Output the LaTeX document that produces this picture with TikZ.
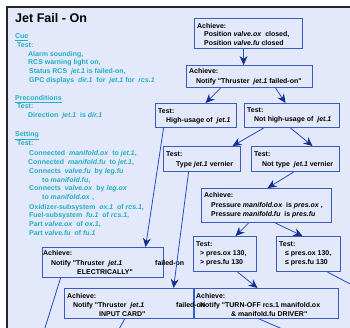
\documentclass[tikz,border=0pt]{standalone}
\usepackage{fontspec}
\newfontfamily\dgfont{Liberation Sans}
\usetikzlibrary{arrows.meta}
\definecolor{bgfill}{RGB}{228,232,251}
\definecolor{cuetext}{RGB}{34,176,196}
\definecolor{boxline}{RGB}{56,92,194}
\definecolor{linkline}{RGB}{32,78,196}
\definecolor{tipfill}{RGB}{22,46,140}
\newcommand\vr[1]{\textit{#1}}
\begin{document}
\begin{tikzpicture}[x=1bp,y=-1bp,
  box/.style={draw=boxline, line width=1.1bp, inner sep=0, anchor=north west},
  lbl/.style={inner sep=0, anchor=base west, text=black,
    font=\dgfont\bfseries\fontsize{7}{8}\selectfont},
  cue/.style={lbl, text=cuetext},
  title/.style={inner sep=0, anchor=base west, text=black,
    font=\dgfont\bfseries\fontsize{12.6}{14}\selectfont},
  link/.style={draw=linkline, line width=0.8bp,
    -{Stealth[length=9bp,width=8bp,inset=3bp,color=tipfill,fill=tipfill]}},
  tail/.style={draw=linkline, line width=0.8bp}]
\clip (0,0) rectangle (350,328);
\fill[white] (0,0) rectangle (350,328);
\fill[bgfill] (6,6) rectangle (350,328);
\draw[black!85, line width=1.6bp] (6.8,330) -- (6.8,6.8) -- (352,6.8);

% title and left-hand description
\node[title] (title) at (15,22.5) {Jet Fail - On};
\node[cue] (c1) at (15,38.5) {\underline{Cue}};
\node[cue] (c2) at (17,47) {Test:};
\node[cue] (c3) at (28,56) {Alarm sounding,};
\node[cue] (c4) at (28,64.5) {RCS warning light on,};
\node[cue] (c5) at (29,73.5) {Status RCS \ \vr{jet.1} is failed-on,};
\node[cue] (c6) at (29,82.5) {GPC displays \ \vr{dir.1} \ for \ \vr{jet.1} for \ \vr{rcs.1}};
\node[cue] (c7) at (15,100.5) {\underline{Preconditions}};
\node[cue] (c8) at (17,108.5) {Test:};
\node[cue] (c9) at (28,117.5) {Direction \ \vr{jet.1} \ is \vr{dir.1}};
\node[cue] (c10) at (15,136.5) {\underline{Setting}};
\node[cue] (c11) at (17,145.5) {Test:};
\node[cue] (c12) at (29,155.5) {Connected \ \vr{manifold.ox} \ to \vr{jet.1},};
\node[cue] (c13) at (28,164.5) {Connected \ \vr{manifold.fu} \ to \vr{jet.1},};
\node[cue] (c14) at (29,173.5) {Connects \ \vr{valve.fu} \ by \vr{leg.fu}};
\node[cue] (c15) at (42,182) {to \vr{manifold.fu},};
\node[cue] (c16) at (29,190.5) {Connects \ \vr{valve.ox} \ by \vr{leg.ox}};
\node[cue] (c17) at (42,199.5) {to \vr{manifold.ox} ,};
\node[cue] (c18) at (29,209) {Oxidizer-subsystem \ \vr{ox.1} \ of \vr{rcs.1},};
\node[cue] (c19) at (29,217.5) {Fuel-subsystem \ \vr{fu.1} \ of \vr{rcs.1},};
\node[cue] (c20) at (29,226.5) {Part \vr{valve.ox} \ of \vr{ox.1},};
\node[cue] (c21) at (29,235) {Part \vr{valve.fu} \ of \vr{fu.1}};

% goal and test boxes
\node[box, minimum width=108bp, minimum height=30bp] (b1) at (194,18) {};
\node[box, minimum width=126bp, minimum height=22bp] (b2) at (186,65) {};
\node[box, minimum width=81bp, minimum height=24bp] (b3) at (155,103) {};
\node[box, minimum width=95bp, minimum height=24bp] (b4) at (244,103) {};
\node[box, minimum width=77bp, minimum height=25bp] (b5) at (163,146) {};
\node[box, minimum width=88bp, minimum height=25bp] (b6) at (251,146) {};
\node[box, minimum width=130bp, minimum height=34bp] (b7) at (201,188) {};
\node[box, minimum width=63bp, minimum height=35bp] (b8) at (193,236) {};
\node[box, minimum width=64bp, minimum height=35bp] (b9) at (276,236) {};
\node[box, minimum width=121bp, minimum height=30bp] (b11) at (42,247) {};
\node[box, minimum width=129bp, minimum height=30bp] (b12) at (64,288) {};
\node[box, minimum width=144bp, minimum height=30bp] (b10) at (194,288) {};

% box texts
\node[lbl] (a1) at (197,28) {Achieve:};
\node[lbl] (a2) at (204,36.5) {Position \vr{valve.ox} \ closed,};
\node[lbl] (a3) at (204,45) {Position \vr{valve.fu} closed};
\node[lbl] (d1) at (189,73) {Achieve:};
\node[lbl] (d2) at (196,83) {Notify "Thruster \ \vr{jet.1} failed-on"};
\node[lbl] (e1) at (158,113) {Test:};
\node[lbl] (e2) at (166,122) {High-usage of \ \vr{jet.1}};
\node[lbl] (f1) at (247,112) {Test:};
\node[lbl] (f2) at (254,121) {Not high-usage of \ \vr{jet.1}};
\node[lbl] (g1) at (166,156) {Test:};
\node[lbl] (g2) at (176,166) {Type \vr{jet.1} vernier};
\node[lbl] (h1) at (254,156) {Test:};
\node[lbl] (h2) at (262,166) {Not type \ \vr{jet.1} vernier};
\node[lbl] (k1) at (204,197) {Achieve:};
\node[lbl] (k2) at (211,207) {Pressure \vr{manifold.ox} \ is \vr{pres.ox} ,};
\node[lbl] (k3) at (211,216) {Pressure \vr{manifold.fu} \ is \vr{pres.fu}};
\node[lbl] (m1) at (196,246) {Test:};
\node[lbl] (m2) at (200,255) {> pres.ox 130,};
\node[lbl] (m3) at (200,264) {> pres.fu 130};
\node[lbl] (n1) at (279,246) {Test:};
\node[lbl] (n2) at (285,255) {≤ pres.ox 130,};
\node[lbl] (n3) at (285,264) {≤ pres.fu 130};
\node[lbl] (p1) at (43,255) {Achieve:};
\node[lbl] (p2) at (51,265) {Notify "Thruster \ \vr{jet.1}};
\node[lbl] (p3) at (155,265) {failed-on};
\node[lbl] (p4) at (77,274) {ELECTRICALLY"};
\node[lbl] (q1) at (67,298) {Achieve:};
\node[lbl] (q2) at (73,307) {Notify "Thruster \ \vr{jet.1}};
\node[lbl] (q3) at (176,307) {failed-on};
\node[lbl] (q4) at (99,316) {INPUT CARD"};
\node[lbl] (r1) at (196,298) {Achieve:};
\node[lbl] (r2) at (200,307) {Notify "TURN-OFF rcs.1 manifold.ox};
\node[lbl] (r3) at (231,316) {\& manifold.fu DRIVER"};

% loose ends running out of the frame
\coordinate (o9) at (354,286);
\coordinate (o10) at (287,331);
\coordinate (o11) at (44,331);
\coordinate (o12) at (118,331);

% connectors
\draw[link] ([xshift=-5bp]b1.south) -- ([xshift=-6bp]b2.north);
\draw[link] ([xshift=-29bp]b2.south) -- ([xshift=9.5bp]b3.north);
\draw[link] ([xshift=26bp]b2.south) -- ([xshift=-6.5bp]b4.north);
\draw[link] ([xshift=-32.5bp]b3.south) -- ([xshift=42.5bp]b11.north);
\draw[link] ([xshift=-28.5bp]b4.south) -- ([xshift=30.5bp]b5.north);
\draw[link] ([xshift=-1.5bp]b4.south) -- ([xshift=17bp]b6.north);
\draw[link] ([xshift=-13.5bp]b5.south) -- ([xshift=44.5bp]b12.north);
\draw[link] ([xshift=-2bp]b6.south) -- ([xshift=1bp]b7.north);
\draw[link] ([xshift=-18bp]b7.south) -- ([xshift=10.5bp]b8.north);
\draw[link] ([xshift=9bp]b7.south) -- ([xshift=-6bp]b9.north);
\draw[link] ([xshift=12.5bp]b8.south) -- ([xshift=-9bp]b10.north);
\draw[tail] ([xshift=19bp]b9.south) -- (o9);
\draw[tail] ([xshift=-7bp]b10.south) -- (o10);
\draw[tail] ([xshift=-42.5bp]b11.south) -- (o11);
\draw[tail] ([xshift=-4.5bp]b12.south) -- (o12);
\end{tikzpicture}
\end{document}
